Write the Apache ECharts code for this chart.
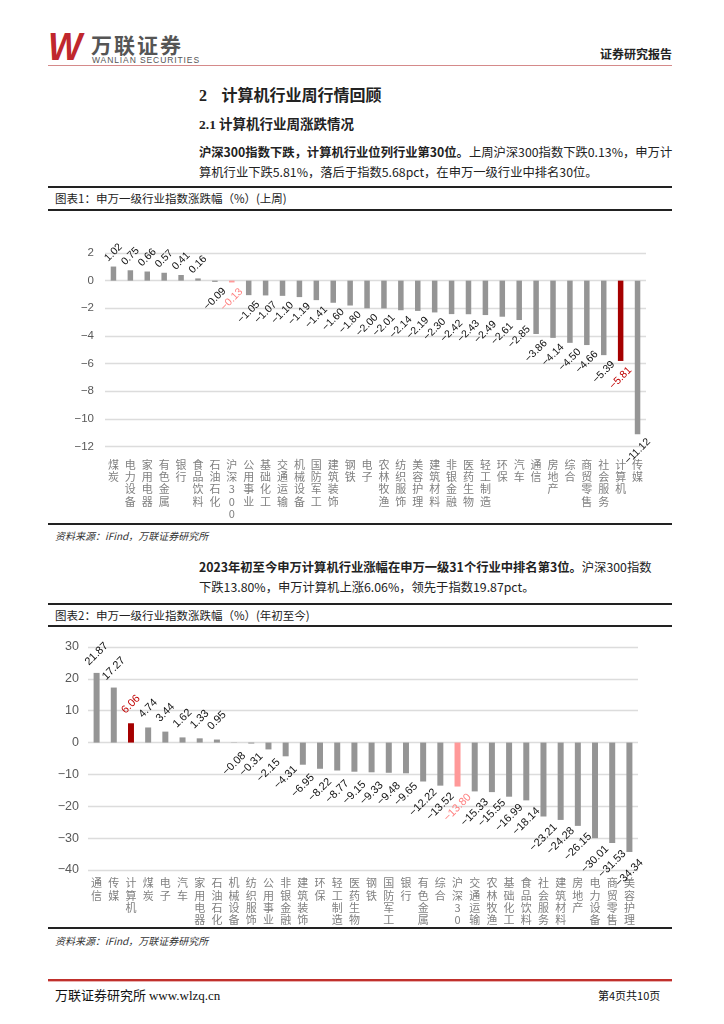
<!DOCTYPE html>
<html>
<head>
<meta charset="utf-8">
<script src="https://cdn.jsdelivr.net/npm/echarts@6/dist/echarts.min.js"></script>
<style>
  html, body { margin: 0; padding: 0; background: #fff; }
  body { width: 724px; height: 1024px; position: relative; overflow: hidden;
         font-family: "Noto Sans CJK SC", "Noto Sans", sans-serif; color: #222; }
  .abs { position: absolute; white-space: nowrap; }
  .hline { position: absolute; left: 48px; width: 624px; background: #222; }
</style>
</head>
<body>
<!-- header -->
<div class="abs" style="left:47px;top:27px;font-family:'Liberation Sans',sans-serif;font-weight:900;font-style:italic;font-size:38px;color:#c0272d;transform:scaleX(0.95);line-height:40px;">W</div>
<div class="abs" style="left:91px;top:32px;font-size:21px;font-weight:700;color:#555;letter-spacing:2px;line-height:24px;">万联证券</div>
<div class="abs" style="left:92px;top:55px;font-family:'Liberation Sans',sans-serif;font-size:8.5px;color:#555;letter-spacing:0.9px;line-height:10px;">WANLIAN SECURITIES</div>
<div class="abs" style="left:600px;top:46px;font-size:12px;font-weight:700;color:#222;line-height:16px;">证券研究报告</div>
<div class="hline" style="top:65px;height:1px;background:#d58a8a;"></div>

<div class="abs" style="left:199px;top:83px;font-size:16px;font-weight:700;line-height:22px;"><span style="font-family:'Liberation Serif',serif;">2</span>&nbsp;&nbsp;&nbsp;&nbsp;计算机行业周行情回顾</div>
<div class="abs" style="left:199px;top:113px;font-size:13.5px;font-weight:700;line-height:20px;"><span style="font-family:'Liberation Serif',serif;">2.1</span> 计算机行业周涨跌情况</div>
<div class="abs" style="left:199px;top:142px;font-size:12.3px;line-height:20px;"><b>沪深300指数下跌，计算机行业位列行业第30位。</b>上周沪深300指数下跌0.13%，申万计<br>算机行业下跌5.81%，落后于指数5.68pct，在申万一级行业中排名30位。</div>

<div class="hline" style="top:186px;height:2px;"></div>
<div class="abs" style="left:55px;top:190px;font-size:11.5px;line-height:16px;color:#222;">图表1：申万一级行业指数涨跌幅（%）(上周)</div>
<div class="hline" style="top:209px;height:2px;"></div>
<div id="c1" style="position:absolute;left:0;top:212px;width:724px;height:310px;"></div>
<div class="hline" style="top:523px;height:2px;"></div>
<div class="abs" style="left:55px;top:528px;font-size:10px;font-style:italic;line-height:16px;color:#333;">资料来源：iFind，万联证券研究所</div>

<div class="abs" style="left:199px;top:557px;font-size:12.3px;line-height:20px;"><b>2023年初至今申万计算机行业涨幅在申万一级31个行业中排名第3位。</b>沪深300指数<br>下跌13.80%，申万计算机上涨6.06%，领先于指数19.87pct。</div>

<div class="hline" style="top:603px;height:2px;"></div>
<div class="abs" style="left:55px;top:607px;font-size:11.5px;line-height:16px;color:#222;">图表2：申万一级行业指数涨跌幅（%）(年初至今)</div>
<div class="hline" style="top:625px;height:2px;"></div>
<div id="c2" style="position:absolute;left:0;top:627px;width:724px;height:299px;"></div>
<div class="hline" style="top:927px;height:2px;"></div>
<div class="abs" style="left:55px;top:933px;font-size:10px;font-style:italic;line-height:16px;color:#333;">资料来源：iFind，万联证券研究所</div>

<!-- footer -->
<div class="hline" style="top:979px;height:2px;background:#c0302c;"></div>
<div class="hline" style="top:981px;height:1px;background:#eab0b0;"></div>
<div class="abs" style="left:55px;top:986px;font-size:13px;line-height:18px;color:#111;">万联证券研究所 <span style="font-family:'Liberation Serif',serif;">www.wlzq.cn</span></div>
<div class="abs" style="left:598px;top:987px;font-size:11px;line-height:16px;color:#111;">第4页共10页</div>

<script>
// ---------- data ----------
const weekCategories = ['煤炭','电力设备','家用电器','有色金属','银行','食品饮料','石油石化','沪深300','公用事业','基础化工','交通运输','机械设备','国防军工','建筑装饰','钢铁','电子','农林牧渔','纺织服饰','美容护理','建筑材料','非银金融','医药生物','轻工制造','环保','汽车','通信','房地产','综合','商贸零售','社会服务','计算机','传媒'];
const weekValues = [1.02,0.75,0.66,0.57,0.41,0.16,-0.09,-0.13,-1.05,-1.07,-1.10,-1.19,-1.41,-1.60,-1.80,-2.00,-2.01,-2.14,-2.19,-2.30,-2.42,-2.43,-2.49,-2.61,-2.85,-3.86,-4.14,-4.50,-4.66,-5.39,-5.81,-11.12];
const weekTicks = { min: -12, max: 2, interval: 2 };

const ytdCategories = ['通信','传媒','计算机','煤炭','电子','汽车','家用电器','石油石化','机械设备','纺织服饰','公用事业','非银金融','建筑装饰','环保','轻工制造','医药生物','钢铁','国防军工','银行','有色金属','综合','沪深300','交通运输','农林牧渔','基础化工','食品饮料','社会服务','建筑材料','房地产','电力设备','商贸零售','美容护理'];
const ytdValues = [21.87,17.27,6.06,4.74,3.44,1.62,1.33,0.95,-0.08,-0.31,-2.15,-4.31,-6.95,-8.22,-8.77,-9.15,-9.33,-9.48,-9.65,-12.22,-13.52,-13.80,-15.33,-15.55,-16.99,-18.14,-23.21,-24.28,-26.15,-30.01,-31.53,-34.34];
const ytdTicks = { min: -40, max: 30, interval: 10 };

const highlight = {
  '计算机': { bar: '#a50000', label: '#c00000' },
  '沪深300': { bar: '#ff9999', label: '#ff8080' }
};
const BAR = '#959595';

function minus(s) { return String(s).replace('-', '\u2212'); }

function buildData(cats, vals, upDist, downDist, fs) {
  return vals.map((v, i) => {
    const h = highlight[cats[i]];
    return {
      value: v,
      itemStyle: { color: h ? h.bar : BAR },
      label: {
        show: true,
        position: v >= 0 ? 'top' : 'bottom',
        distance: v >= 0 ? upDist : downDist,
        rotate: 45,
        align: 'center',
        verticalAlign: 'middle',
        fontSize: fs,
        fontFamily: 'Liberation Sans, Arial, sans-serif',
        color: h ? h.label : '#111',
        formatter: p => minus(p.value.toFixed(2))
      }
    };
  });
}

function catFormatter(name) { return name.split('').join('\n'); }

function makeOption(cats, vals, ticks, grid, cfg) {
  grid.outerBoundsMode = 'none';
  grid.containLabel = false;
  return {
    animation: false,
    grid: grid,
    xAxis: {
      type: 'category',
      data: cats,
      position: 'bottom',
      axisLine: { show: false, onZero: false },
      axisTick: { show: false },
      axisLabel: {
        interval: 0, margin: cfg.catMargin, formatter: catFormatter,
        fontSize: 11, lineHeight: 12.3, color: '#808080',
        fontFamily: 'Noto Sans CJK SC, sans-serif'
      }
    },
    yAxis: {
      type: 'value', min: ticks.min, max: ticks.max, interval: ticks.interval,
      axisLine: { show: false }, axisTick: { show: false },
      splitLine: { lineStyle: { color: '#dcdcdc', width: 1.3 } },
      axisLabel: { margin: cfg.yMargin, fontSize: cfg.yFont, color: '#595959',
        fontFamily: 'Liberation Sans, Arial, sans-serif',
        formatter: v => minus(v) }
    },
    series: [{
      type: 'bar', barWidth: cfg.barWidth,
      data: buildData(cats, vals, cfg.up, cfg.down, cfg.labelFont)
    }]
  };
}

const c1 = echarts.init(document.getElementById('c1'), null, { renderer: 'canvas' });
c1.setOption(makeOption(weekCategories, weekValues, weekTicks,
  { left: 105, right: 78, top: 41, height: 193.5 },
  { catMargin: 12, yMargin: 11, yFont: 11.5, barWidth: 5.5, up: 14, down: 17, labelFont: 10.5 }));

const c2 = echarts.init(document.getElementById('c2'), null, { renderer: 'canvas' });
c2.setOption(makeOption(ytdCategories, ytdValues, ytdTicks,
  { left: 88, right: 86, top: 20, height: 223 },
  { catMargin: 7, yMargin: 9, yFont: 12.5, barWidth: 6, up: 19, down: 21, labelFont: 11 }));
</script>
</body>
</html>
